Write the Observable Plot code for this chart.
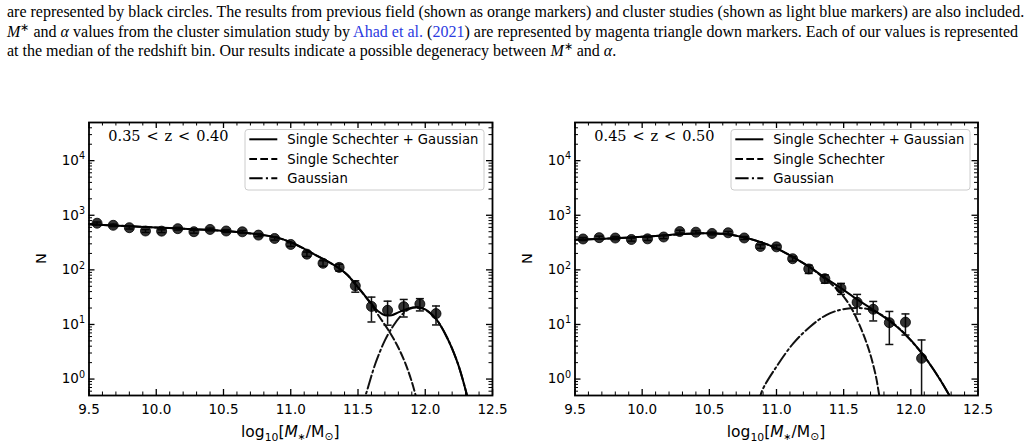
<!DOCTYPE html>
<html>
<head>
<meta charset="utf-8">
<script src="https://cdn.jsdelivr.net/npm/d3@7"></script>
<script src="https://cdn.jsdelivr.net/npm/@observablehq/plot@0.6"></script>
<style>
html,body{margin:0;padding:0;background:#fff;}
body{width:1025px;height:448px;position:relative;overflow:hidden;color:#000;}
#caption{position:absolute;left:7px;top:2px;width:1011px;font-family:"Liberation Serif","Times New Roman",serif;font-size:16px;line-height:19.5px;}
#caption .l{white-space:nowrap;text-align:justify;text-align-last:justify;}
#caption .l.last{text-align-last:left;}
#caption .lk{color:#2b3be0;}
#caption sup{font-size:70%;line-height:0;vertical-align:0.5em;}
.panel{position:absolute;top:100px;}
#overlay{position:absolute;left:0;top:0;pointer-events:none;}
</style>
</head>
<body>
<div id="caption">
  <div class="l">are represented by black circles. The results from previous field (shown as orange markers) and cluster studies (shown as light blue markers) are also included.</div>
  <div class="l"><i>M</i><sup>∗</sup> and <i>α</i> values from the cluster simulation study by <span class="lk">Ahad et al.</span> (<span class="lk">2021</span>) are represented by magenta triangle down markers. Each of our values is represented</div>
  <div class="l last">at the median of the redshift bin. Our results indicate a possible degeneracy between <i>M</i><sup>∗</sup> and <i>α</i>.</div>
</div>
<div id="p1" class="panel" style="left:0px;width:512px;"></div>
<div id="p2" class="panel" style="left:512px;width:513px;"></div>
<svg id="overlay" width="1025" height="448"></svg>
<script>
// ---------- data ----------
const massBins = [9.56, 9.68, 9.80, 9.92, 10.04, 10.16, 10.28, 10.40, 10.52, 10.64, 10.76,
                  10.88, 11.00, 11.12, 11.24, 11.36, 11.48, 11.60, 11.72, 11.84, 11.96, 12.08];

// 0.35 < z < 0.40
const countsLow = [715, 655, 592, 515, 512, 568, 500, 550, 515, 498, 433,
                   376, 292, 194, 132, 111, 51, 21.4, 18.2, 21.2, 23.7, 15.8];
const errLow    = [36, 34, 32, 30, 30, 32, 30, 31, 30, 29, 27,
                   25, 22, 18, 15, 16, 12, 10.3, 8.5, 7.5, 6, 6];
// fitted curves: [log10 M*, N]
const sumLow = [[9.50,684],[9.80,631],[10.10,582],[10.40,537],[10.60,495],[10.80,432],[10.90,389],
  [11.00,320],[11.10,243],[11.20,178],[11.30,132],[11.36,107],[11.42,81.3],[11.48,55.0],[11.54,36.3],
  [11.60,24.0],[11.65,17.4],[11.70,14.8],[11.75,14.8],[11.80,16.6],[11.87,19.5],[11.94,20.7],
  [12.00,18.8],[12.08,12.6],[12.16,5.9],[12.24,2.0],[12.30,0.63],[12.34,0.25]];
const schLow = [[9.50,684],[9.80,631],[10.10,582],[10.40,537],[10.60,495],[10.80,432],[10.90,389],
  [11.00,320],[11.10,243],[11.20,178],[11.30,132],[11.36,107],[11.42,81.3],[11.48,55.0],[11.54,36.3],
  [11.60,22.9],[11.67,12.6],[11.73,7.6],[11.79,4.2],[11.85,2.0],[11.90,0.89],[11.95,0.32]];
const gauLow = [[11.52,0.28],[11.56,0.54],[11.63,1.95],[11.70,5.1],[11.76,9.3],[11.82,14.5],[11.88,19.1],
  [11.94,20.7],[12.00,18.6],[12.08,12.6],[12.16,5.9],[12.24,2.0],[12.30,0.63],[12.34,0.25]];

// 0.45 < z < 0.50
const countsHigh = [368, 389, 383, 360, 370, 400, 503, 490, 464, 478, 384,
                    268, 264, 160, 104, 69, 46, 25.5, 19, 10.8, 11, 2.4];
const errHigh    = [24, 25, 25, 24, 24, 26, 29, 28, 27, 28, 24,
                    20, 20, 15, 18, 12, 10.5, 10, 7.4, 6.5, 4.6, 2.8];
const sumHigh = [[9.50,355],[9.80,380],[10.10,417],[10.30,452],[10.45,470],[10.60,457],[10.75,398],
  [10.88,324],[11.00,248],[11.13,168],[11.25,111],[11.37,69.2],[11.48,46.2],[11.60,28.8],[11.72,18.6],
  [11.84,11.7],[11.95,6.9],[12.075,3.16],[12.17,1.48],[12.28,0.54],[12.32,0.35]];
const schHigh = [[9.50,355],[9.80,380],[10.10,417],[10.30,452],[10.45,470],[10.60,457],[10.75,398],
  [10.88,324],[11.00,248],[11.13,168],[11.25,111],[11.30,90],[11.37,66],[11.43,49],[11.48,37.2],
  [11.55,21.4],[11.62,9.5],[11.69,3.3],[11.74,1.12],[11.765,0.50],[11.78,0.32]];
const gauHigh = [[10.87,0.35],[10.89,0.59],[11.00,1.69],[11.125,4.5],[11.25,9.1],[11.37,14.9],[11.47,18.4],
  [11.55,19.8],[11.62,20.0],[11.70,18.6],[11.80,14.1],[11.90,9.1],[12.00,5.1],[12.10,2.6],[12.20,1.15],
  [12.28,0.54],[12.32,0.35]];

const zLabels = ["0.35 < z < 0.40", "0.45 < z < 0.50"];
const legendLabels = ["Single Schechter + Gaussian", "Single Schechter", "Gaussian"];

const xMajor = [9.5, 10.0, 10.5, 11.0, 11.5, 12.0, 12.5];
const xMinor = [9.6, 9.7, 9.8, 9.9, 10.1, 10.2, 10.3, 10.4, 10.6, 10.7, 10.8, 10.9,
                11.1, 11.2, 11.3, 11.4, 11.6, 11.7, 11.8, 11.9, 12.1, 12.2, 12.3, 12.4];
const yMajor = [1, 10, 100, 1000, 10000];
const yTickExponents = ["0", "1", "2", "3", "4"];
const yMinor = [0.5, 0.6, 0.7, 0.8, 0.9, 2, 3, 4, 5, 6, 7, 8, 9,
                20, 30, 40, 50, 60, 70, 80, 90, 200, 300, 400, 500, 600, 700, 800, 900,
                2000, 3000, 4000, 5000, 6000, 7000, 8000, 9000, 20000, 30000, 40000, 50000];

// ---------- drawing ----------
const DASH = "7.7,3.3", DASHDOT = "13.3,3.3,2.1,3.3", LW = 2;
const capSymbol = {draw(ctx, size) { const r = Math.sqrt(size / Math.PI); ctx.moveTo(-r, 0); ctx.lineTo(r, 0); }};

const panels = [
  {el: "#p1", left: 0, width: 512, mL: 88.5, mR: 20, counts: countsLow, err: errLow, sum: sumLow, sch: schLow, gau: gauLow, z: zLabels[0]},
  {el: "#p2", left: 512, width: 513, mL: 62.5, mR: 47.5, counts: countsHigh, err: errHigh, sum: sumHigh, sch: schHigh, gau: gauHigh, z: zLabels[1]}
];
const HEIGHT = 348, MT = 22, MB = 53, TOP = 100;

const ov = d3.select("#overlay");

panels.forEach(p => {
  const pts = massBins.map((x, i) => ({x, n: p.counts[i], e: p.err[i]}));
  const H = HEIGHT - MT - MB;
  const W = p.width - p.mL - p.mR;
  const cx = d => d[0], cy = d => d[1];
  const chart = Plot.plot({
    width: p.width, height: HEIGHT,
    marginLeft: p.mL, marginRight: p.mR, marginTop: MT, marginBottom: MB,
    style: {fontFamily: "DejaVu Sans", fontSize: "13.5px", background: "transparent", color: "black"},
    x: {domain: [9.5, 12.5]},
    y: {type: "log", domain: [0.5, 5e4]},
    marks: [
      Plot.line(p.sch, {x: cx, y: cy, curve: "catmull-rom", stroke: "#111", strokeWidth: LW, strokeDasharray: DASH, clip: true}),
      Plot.line(p.gau, {x: cx, y: cy, curve: "catmull-rom", stroke: "#111", strokeWidth: LW, strokeDasharray: DASHDOT, clip: true}),
      Plot.line(p.sum, {x: cx, y: cy, curve: "catmull-rom", stroke: "#000", strokeWidth: LW, clip: true}),
      Plot.ruleX(pts, {x: "x", y1: d => Math.max(d.n - d.e, 0.01), y2: d => d.n + d.e, stroke: "#111", strokeWidth: 1.5, clip: true}),
      Plot.dot(pts, {x: "x", y: d => d.n + d.e, symbol: capSymbol, r: 4, stroke: "#111", strokeWidth: 1.5, fill: "none"}),
      Plot.dot(pts.filter(d => d.n - d.e > 0.5), {x: "x", y: d => d.n - d.e, symbol: capSymbol, r: 4, stroke: "#111", strokeWidth: 1.5, fill: "none"}),
      Plot.dot(pts, {x: "x", y: "n", r: 5, fill: "black", fillOpacity: 0.8, stroke: "black", strokeWidth: 0.8}),
      // inward ticks on all four sides
      Plot.tickX(xMajor, {x: d => d, insetTop: H - 6, stroke: "black", strokeWidth: 1.3}),
      Plot.tickX(xMajor, {x: d => d, insetBottom: H - 6, stroke: "black", strokeWidth: 1.3}),
      Plot.tickX(xMinor, {x: d => d, insetTop: H - 3.5, stroke: "black", strokeWidth: 1}),
      Plot.tickX(xMinor, {x: d => d, insetBottom: H - 3.5, stroke: "black", strokeWidth: 1}),
      Plot.tickY(yMajor, {y: d => d, insetRight: W - 6, stroke: "black", strokeWidth: 1.3}),
      Plot.tickY(yMajor, {y: d => d, insetLeft: W - 6, stroke: "black", strokeWidth: 1.3}),
      Plot.tickY(yMinor, {y: d => d, insetRight: W - 3.5, stroke: "black", strokeWidth: 1}),
      Plot.tickY(yMinor, {y: d => d, insetLeft: W - 3.5, stroke: "black", strokeWidth: 1}),
      Plot.frame({stroke: "black", strokeWidth: 1.8}),
      Plot.axisX({ticks: xMajor, tickSize: 0, tickPadding: 9, tickFormat: d => d.toFixed(1), label: null, fontSize: 13.5}),
      Plot.axisY({ticks: yMajor, tickSize: 0, tickPadding: 4, tickFormat: d => "10^" + yTickExponents[yMajor.indexOf(d)], label: null, fontSize: 13.5})
    ]
  });
  document.querySelector(p.el).appendChild(chart);

  // turn "10^k" tick labels into 10 with a real superscript
  d3.select(chart).selectAll('g[aria-label="y-axis tick label"] text').each(function() {
    const parts = this.textContent.split("^");
    const t = d3.select(this);
    t.text(parts[0]);
    t.append("tspan").attr("dy", "-5.6").style("font-size", "9.6px").text(parts[1]);
  });

  const x0 = p.left + p.mL, x1 = p.left + p.width - p.mR;
  const y0 = TOP + MT, y1 = TOP + HEIGHT - MB;

  // redshift annotation
  ov.append("text").attr("x", x0 + 19.8).attr("y", 140.5)
    .style("font-family", "DejaVu Serif").style("font-size", "14.5px").style("word-spacing", "1.3px")
    .text(p.z);

  // legend
  const lx = x0 + 156.5, ly = 129.5;
  ov.append("rect").attr("x", lx).attr("y", ly).attr("width", 239).attr("height", 60.5).attr("rx", 3)
    .attr("fill", "white").attr("fill-opacity", 0.8).attr("stroke", "#cccccc").attr("stroke-width", 1);
  const rowY = [ly + 9.8, ly + 29.5, ly + 48.8];
  const dashes = [null, DASH, DASHDOT];
  legendLabels.forEach((t, i) => {
    const ln = ov.append("line").attr("x1", lx + 4.3).attr("x2", lx + 32.3).attr("y1", rowY[i]).attr("y2", rowY[i])
      .attr("stroke", "black").attr("stroke-width", LW);
    if (dashes[i]) ln.attr("stroke-dasharray", dashes[i]);
    ov.append("text").attr("x", lx + 42.3).attr("y", rowY[i] + 4.7)
      .style("font-family", "DejaVu Sans").style("font-size", "13.2px").text(t);
  });

  // x label
  const xl = ov.append("text").attr("x", (x0 + x1) / 2).attr("y", 437).attr("text-anchor", "middle")
    .style("font-family", "DejaVu Sans").style("font-size", "15.5px");
  xl.append("tspan").text("log");
  xl.append("tspan").attr("dy", 4).style("font-size", "10.8px").text("10");
  xl.append("tspan").attr("dy", -4).text("[");
  xl.append("tspan").style("font-style", "italic").text("M");
  xl.append("tspan").attr("dy", 3).style("font-size", "9.5px").text("∗");
  xl.append("tspan").attr("dy", -3).text("/M");
  xl.append("tspan").attr("dy", 3).style("font-size", "10.8px").text("⊙");
  xl.append("tspan").attr("dy", -3).text("]");

  // y label
  ov.append("text").attr("transform", `translate(${x0 - 42.2},${(y0 + y1) / 2}) rotate(-90)`)
    .attr("text-anchor", "middle").style("font-family", "DejaVu Sans").style("font-size", "14.5px").text("N");
});
</script>
</body>
</html>
